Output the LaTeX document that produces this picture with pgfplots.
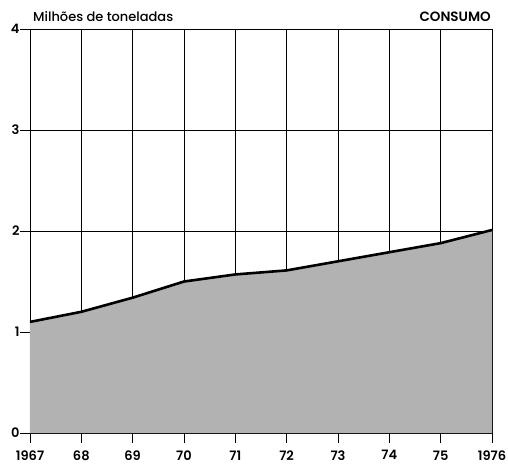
\documentclass[border=0pt]{standalone}
\usepackage{pgfplots}
\pgfplotsset{compat=1.18}
\usepackage{fontspec}
\setmainfont{Poppins}[UprightFont={* Medium}, BoldFont={* SemiBold}]
\begin{document}
\begin{tikzpicture}
\begin{axis}[
  name=ax,
  scale only axis,
  width=462pt, height=404pt,
  xmin=1967, xmax=1976, ymin=0, ymax=4,
  xtick={1967,...,1976},
  xticklabels={1967,68,69,70,71,72,73,74,75,1976},
  ytick={0,1,2,3,4},
  grid=major,
  grid style={black, line width=0.7pt},
  axis line style={black, line width=0.8pt},
  tick style={black, line width=0.8pt},
  major tick length=10pt,
  tick align=outside,
  xtick pos=bottom, ytick pos=left,
  ticklabel style={font=\fontsize{13}{15}\selectfont\bfseries},
  /pgf/number format/assume math mode=true,
  xticklabel style={yshift=-4pt},
  yticklabel style={xshift=3pt},
  clip=false,
]
\addplot[draw=none, fill=black!30, forget plot] coordinates {
(1967,1.10) (1968,1.20) (1969,1.34) (1970,1.50) (1971,1.57) (1972,1.61)
(1973,1.70) (1974,1.79) (1975,1.88) (1976,2.01)
} \closedcycle;
\addplot[black, line width=2.6pt, line join=round] coordinates {
(1967,1.10) (1968,1.20) (1969,1.34) (1970,1.50) (1971,1.57) (1972,1.61)
(1973,1.70) (1974,1.79) (1975,1.88) (1976,2.01)
};
\node[anchor=base west, font=\fontsize{13}{15}\selectfont, inner sep=0pt] at (rel axis cs:0,1) [yshift=7pt, xshift=3pt] {Milhões de toneladas};
\node[anchor=base east, font=\fontsize{13.5}{15}\selectfont\bfseries, inner sep=0pt] at (rel axis cs:1,1) [yshift=7pt, xshift=-1pt] {CONSUMO};
\end{axis}
\pgfresetboundingbox
\path[use as bounding box] ([shift={(-30pt,-36pt)}]ax.south west) rectangle ([shift={(16pt,29pt)}]ax.north east);
\end{tikzpicture}
\end{document}
